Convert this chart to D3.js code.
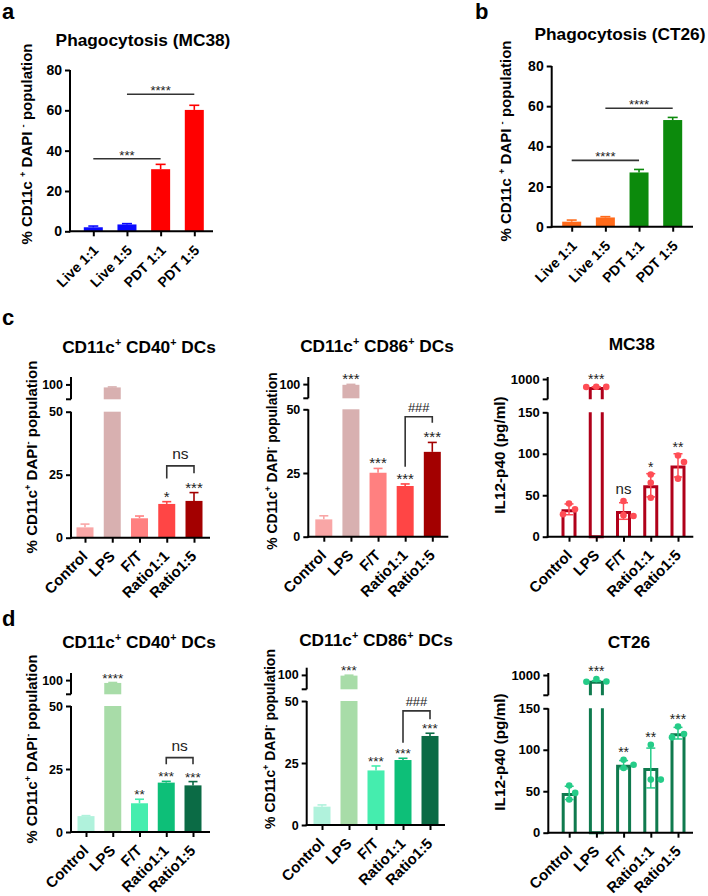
<!DOCTYPE html>
<html><head><meta charset="utf-8">
<script src="https://cdn.jsdelivr.net/npm/d3@7"></script>
<style>
body{margin:0;background:#fff}
svg{display:block}
text{font-family:"Liberation Sans",Arial,Helvetica,sans-serif}
</style>
</head><body>
<svg id="fig" width="708" height="896"></svg>
<script>
// ---------------- DATA ----------------
const phagoCats = ["Live 1:1", "Live 1:5", "PDT 1:1", "PDT 1:5"];
const phagoMC38 = [2.0, 3.4, 30.8, 60.2];
const phagoMC38Err = [0.6, 0.4, 2.4, 2.3];
const phagoCT26 = [2.5, 4.6, 27.0, 53.1];
const phagoCT26Err = [0.8, 0.4, 1.5, 1.3];
const phagoMC38Sig = [{from: 0, to: 2, y: 36, label: "***"}, {from: 1, to: 3, y: 68, label: "****"}];
const phagoCT26Sig = [{from: 0, to: 2, y: 33, label: "****"}, {from: 1, to: 3, y: 59, label: "****"}];

const dcCats = ["Control", "LPS", "F/T", "Ratio1:1", "Ratio1:5"];
// panel c (MC38)
const cCD40 = [4.1, 98.0, 7.7, 13.4, 14.6];
const cCD40Err = [1.3, 0.3, 0.9, 0.9, 3.3];
const cCD40Stars = ["", "", "", "*", "***"];
const cCD40Bracket = {from: 3, to: 4, y: 28.5, leftEnd: 23.5, rightEnd: 25.6, label: "ns"};
const cCD86 = [6.8, 99.5, 25.1, 19.9, 33.3];
const cCD86Err = [1.4, 0.3, 1.7, 0.8, 3.7];
const cCD86Stars = ["", "***", "***", "***", "***"];
const cCD86Bracket = {from: 3, to: 4, y: 47.1, leftEnd: 27.5, rightEnd: 44.7, label: "###"};
const cIL12Dots = [[27, 40, 33], [842, 848, 845], [25, 43, 26], [65, 75, 47], [90, 98, 70]];
const cIL12Mean = [33, 845, 31, 62, 86];
const cIL12SD = [6.5, 3, 10, 14, 14];
const cIL12Stars = ["", "***", "ns", "*", "**"];
// panel d (CT26)
const dCD40 = [6.3, 98.0, 11.4, 19.6, 18.5];
const dCD40Err = [0.2, 0.3, 1.6, 0.5, 1.5];
const dCD40Stars = ["", "****", "**", "***", "***"];
const dCD40Bracket = {from: 3, to: 4, y: 29.5, leftEnd: 26.9, rightEnd: 26.9, label: "ns"};
const dCD86 = [7.4, 99.5, 22.0, 26.2, 35.9];
const dCD86Err = [0.7, 0.3, 1.8, 0.7, 1.1];
const dCD86Stars = ["", "***", "***", "***", "***"];
const dCD86Bracket = {from: 3, to: 4, y: 46, leftEnd: 33.2, rightEnd: 42.6, label: "###"};
const dIL12Dots = [[57, 48, 40], [868, 920, 872], [78, 88, 82], [64, 106, 64], [115, 128, 119]];
const dIL12Mean = [48, 885, 82, 78, 120];
const dIL12SD = [8, 4, 5, 24, 7];
const dIL12Stars = ["", "***", "**", "**", "***"];

// colours
const blueRed = ["#0a0aff", "#0a0aff", "#ff0000", "#ff0000"];
const orangeGreen = ["#ff6a1a", "#ff6a1a", "#0c8a0c", "#0c8a0c"];
const redShades = ["#f9a6a6", "#d8b0b0", "#ff8080", "#ff4545", "#a30000"];
const greenShades = ["#b0f2dc", "#a8dca8", "#45edae", "#0dbf78", "#0b6b45"];

// ---------------- DRAW ----------------
const svg = d3.select("#fig");

function richText(sel, parts, size) {
  let pending = 0;
  parts.forEach(p => {
    const ts = sel.append("tspan").text(p.t);
    if (p.sup) {
      const shift = size * 0.4;
      ts.attr("font-size", size * 0.62).attr("dy", -shift + pending);
      pending = shift;
    } else {
      ts.attr("font-size", size);
      if (pending) ts.attr("dy", pending);
      pending = 0;
    }
  });
}

function panel(cfg) {
  const g = svg.append("g");
  const x = d3.scalePoint().domain(cfg.cats).range(cfg.xRange);
  const yL = d3.scaleLinear().domain(cfg.low).range([cfg.y0, cfg.yTop]);
  const yU = cfg.up ? d3.scaleLinear().domain(cfg.up).range(cfg.upRange) : null;
  const lowMax = cfg.low[1];
  const Y = v => (yU && v > lowMax) ? yU(v) : yL(Math.max(v, cfg.low[0]));
  const rows = cfg.cats.map((c, i) => ({c, i, v: cfg.values[i], e: cfg.errs[i], col: cfg.colors[i], dots: cfg.dots ? cfg.dots[i] : null}));
  const w = cfg.barW;

  if (!cfg.hollow) {
    g.selectAll("rect.low").data(rows).join("rect")
      .attr("x", d => x(d.c) - w / 2)
      .attr("y", d => yL(Math.min(d.v, lowMax)))
      .attr("width", w)
      .attr("height", d => cfg.y0 - yL(Math.min(d.v, lowMax)))
      .attr("fill", d => d.col);
    if (yU) {
      g.selectAll("rect.up").data(rows.filter(d => d.v > lowMax)).join("rect")
        .attr("x", d => x(d.c) - w / 2)
        .attr("y", d => yU(d.v))
        .attr("width", w)
        .attr("height", d => cfg.upRange[0] - yU(d.v))
        .attr("fill", d => d.col);
    }
    const eg = g.selectAll("g.err").data(rows).join("g").attr("stroke", d => d.col).attr("stroke-width", 1.6);
    eg.append("line").attr("x1", d => x(d.c)).attr("x2", d => x(d.c))
      .attr("y1", d => Y(d.v)).attr("y2", d => Y(d.v + d.e));
    eg.append("line").attr("x1", d => x(d.c) - cfg.capW / 2).attr("x2", d => x(d.c) + cfg.capW / 2)
      .attr("y1", d => Y(d.v + d.e)).attr("y2", d => Y(d.v + d.e));
  } else {
    const sw = 3;
    const hw = w / 2 - sw / 2;
    g.selectAll("path.hbar").data(rows).join("path")
      .attr("fill", "none").attr("stroke", cfg.stroke).attr("stroke-width", sw)
      .attr("d", d => {
        const cx = x(d.c);
        if (yU && d.v > lowMax) {
          const t = yL(lowMax), b = cfg.y0, ub = cfg.upRange[0], ut = yU(d.v) + sw / 2;
          return `M${cx - hw},${t}V${b}H${cx + hw}V${t}M${cx - hw},${ub}V${ut}H${cx + hw}V${ub}`;
        }
        return `M${cx - hw},${cfg.y0}V${yL(d.v) + sw / 2}H${cx + hw}V${cfg.y0}`;
      });
    const eg = g.selectAll("g.err").data(rows).join("g").attr("stroke", cfg.dotColor).attr("stroke-width", 1.5);
    eg.append("line").attr("x1", d => x(d.c)).attr("x2", d => x(d.c))
      .attr("y1", d => Y(d.v - d.e)).attr("y2", d => Y(d.v + d.e));
    eg.append("line").attr("x1", d => x(d.c) - cfg.capW / 2).attr("x2", d => x(d.c) + cfg.capW / 2)
      .attr("y1", d => Y(d.v + d.e)).attr("y2", d => Y(d.v + d.e));
    eg.append("line").attr("x1", d => x(d.c) - cfg.capW / 2).attr("x2", d => x(d.c) + cfg.capW / 2)
      .attr("y1", d => Y(d.v - d.e)).attr("y2", d => Y(d.v - d.e));
    const r = 3.3;
    const dotData = [];
    rows.forEach(d => {
      const placed = [];
      d.dots.slice().sort((a, b) => b - a).forEach(val => {
        const py = Y(val);
        let off = 0;
        for (const cand of [0, 6, -6, 10, -10]) {
          if (placed.every(p => Math.hypot(p.ox - cand, p.py - py) >= 2 * r + 1.5)) { off = cand; break; }
        }
        placed.push({ox: off, py});
        dotData.push({cx: x(d.c) + off, cy: py});
      });
    });
    g.selectAll("circle.dot").data(dotData).join("circle")
      .attr("cx", d => d.cx).attr("cy", d => d.cy).attr("r", r).attr("fill", cfg.dotColor);
  }

  // axes
  const ax = g.append("g").attr("stroke", "#000");
  const yAx = g.append("g").attr("transform", `translate(${cfg.axisX},0)`)
    .call(d3.axisLeft(yL).tickValues(cfg.ticks).tickSize(5).tickPadding(3).tickFormat(d3.format("d")));
  yAx.select(".domain").remove();
  if (yU) {
    const uAx = g.append("g").attr("transform", `translate(${cfg.axisX},0)`)
      .call(d3.axisLeft(yU).tickValues(cfg.upTicks).tickSize(5).tickPadding(3).tickFormat(d3.format("d")));
    uAx.select(".domain").remove();
    ax.append("line").attr("x1", cfg.axisX).attr("x2", cfg.axisX)
      .attr("y1", cfg.upRange[0]).attr("y2", cfg.upRange[1]).attr("stroke-width", 2);
    ax.append("line").attr("x1", cfg.axisX - 5).attr("x2", cfg.axisX)
      .attr("y1", cfg.upRange[0]).attr("y2", cfg.upRange[0]).attr("stroke-width", 2);
  }
  ax.append("line").attr("x1", cfg.axisX).attr("x2", cfg.axisX)
    .attr("y1", cfg.y0 + 1).attr("y2", cfg.yTop).attr("stroke-width", 2);
  const xAx = g.append("g").attr("transform", `translate(0,${cfg.y0})`)
    .call(d3.axisBottom(x).tickSize(5).tickFormat(""));
  xAx.select(".domain").remove();
  xAx.selectAll(".tick text").remove();
  ax.append("line").attr("x1", cfg.axisX - 1).attr("x2", cfg.axisEnd)
    .attr("y1", cfg.y0).attr("y2", cfg.y0).attr("stroke-width", 2);
  g.selectAll(".tick line").attr("stroke", "#000").attr("stroke-width", 2);
  g.selectAll(".tick text").attr("font-size", cfg.tickFont).attr("font-weight", "bold").attr("fill", "#000");

  // x labels (rotated)
  g.selectAll("text.xl").data(rows).join("text")
    .attr("transform", d => `translate(${x(d.c) + cfg.xlDx},${cfg.y0 + cfg.xlDy}) rotate(-45)`)
    .attr("text-anchor", "end").attr("font-weight", "bold").attr("font-size", cfg.xlFont)
    .text(d => d.c);

  // title
  const tt = g.append("text").attr("x", cfg.titleX).attr("y", cfg.titleY).attr("text-anchor", "middle")
    .attr("font-weight", "bold").attr("font-size", cfg.titleFont);
  richText(tt, cfg.title, cfg.titleFont);
  // y label
  const yl = g.append("text").attr("transform", `translate(${cfg.ylX},${cfg.ylY}) rotate(-90)`)
    .attr("text-anchor", "middle").attr("font-weight", "bold").attr("font-size", cfg.ylFont);
  richText(yl, cfg.ylabel, cfg.ylFont);

  // stars above bars
  if (cfg.stars) {
    rows.forEach(d => {
      const s = cfg.stars[d.i];
      if (!s) return;
      let top = Y(d.v + d.e);
      if (d.dots) top = Math.min(top, ...d.dots.map(v => Y(v) - 3));
      const isNs = s === "ns";
      g.append("text").attr("x", x(d.c)).attr("y", top - (isNs ? 4 : 0))
        .attr("text-anchor", "middle").attr("font-size", isNs ? 15 : cfg.starFont).attr("fill", "#222")
        .text(s);
    });
  }
  if (cfg.sigLines) {
    cfg.sigLines.forEach(s => {
      const x1 = x(cfg.cats[s.from]), x2 = x(cfg.cats[s.to]);
      g.append("line").attr("x1", x1).attr("x2", x2).attr("y1", yL(s.y)).attr("y2", yL(s.y))
        .attr("stroke", "#333").attr("stroke-width", 1.6);
      g.append("text").attr("x", (x1 + x2) / 2).attr("y", yL(s.y) + 1).attr("text-anchor", "middle")
        .attr("font-size", cfg.starFont).attr("fill", "#222").text(s.label);
    });
  }
  if (cfg.bracket) {
    const b = cfg.bracket;
    const x1 = x(cfg.cats[b.from]), x2 = x(cfg.cats[b.to]);
    g.append("path").attr("fill", "none").attr("stroke", "#333").attr("stroke-width", 1.6)
      .attr("d", `M${x1},${yL(b.leftEnd)}V${yL(b.y)}H${x2}V${yL(b.rightEnd)}`);
    const isNs = b.label === "ns";
    g.append("text").attr("x", (x1 + x2) / 2).attr("y", yL(b.y) - (isNs ? 7 : 5)).attr("text-anchor", "middle")
      .attr("font-size", isNs ? 15.5 : 13).attr("fill", "#222").text(b.label);
  }
}

const ylA = [{t: "% CD11c "}, {t: "+", sup: true}, {t: " DAPI "}, {t: "-", sup: true}, {t: " population"}];
const ylC = [{t: "% CD11c"}, {t: "+", sup: true}, {t: " DAPI"}, {t: "-", sup: true}, {t: " population"}];
const t40 = [{t: "CD11c"}, {t: "+", sup: true}, {t: " CD40"}, {t: "+", sup: true}, {t: " DCs"}];
const t86 = [{t: "CD11c"}, {t: "+", sup: true}, {t: " CD86"}, {t: "+", sup: true}, {t: " DCs"}];
const ylIL = [{t: "IL12-p40 (pg/ml)"}];

const pctCommon = {cats: dcCats, low: [0, 50], ticks: [0, 25, 50], up: [90, 105], upTicks: [100],
  barW: 17, capW: 9, tickFont: 12.5, xlFont: 15, xlDx: 3.5, xlDy: 19.5, titleFont: 17.3, ylFont: 15, starFont: 15};
const ilCommon = {cats: dcCats, low: [0, 150], ticks: [0, 50, 100, 150], up: [600, 1040], upTicks: [1000],
  barW: 15, capW: 9, tickFont: 13, xlFont: 15, xlDx: 4, xlDy: 19.5, titleFont: 17.3, ylFont: 15.3, hollow: true, starFont: 14};

// a
panel({cats: phagoCats, values: phagoMC38, errs: phagoMC38Err, colors: blueRed, sigLines: phagoMC38Sig,
  low: [0, 80], ticks: [0, 20, 40, 60, 80], xRange: [93.3, 194.3], axisX: 70, axisEnd: 213, y0: 231.3, yTop: 70,
  barW: 19, capW: 10, tickFont: 14, xlFont: 14, xlDx: 6, xlDy: 20, starFont: 13,
  title: [{t: "Phagocytosis (MC38)"}], titleX: 143, titleY: 46, titleFont: 17.3,
  ylabel: ylA, ylX: 32, ylY: 144, ylFont: 15});
// b
panel({cats: phagoCats, values: phagoCT26, errs: phagoCT26Err, colors: orangeGreen, sigLines: phagoCT26Sig,
  low: [0, 80], ticks: [0, 20, 40, 60, 80], xRange: [571.7, 672.7], axisX: 551.7, axisEnd: 693, y0: 226.7, yTop: 66,
  barW: 19, capW: 10, tickFont: 14, xlFont: 14, xlDx: 6, xlDy: 20, starFont: 13,
  title: [{t: "Phagocytosis (CT26)"}], titleX: 620, titleY: 40, titleFont: 17.3,
  ylabel: ylA, ylX: 511, ylY: 141, ylFont: 15});
// c
panel(Object.assign({}, pctCommon, {values: cCD40, errs: cCD40Err, colors: redShades, stars: cCD40Stars, bracket: cCD40Bracket,
  xRange: [85, 194], axisX: 71, axisEnd: 210, y0: 537.7, yTop: 411.7, upRange: [399.3, 377],
  title: t40, titleX: 139, titleY: 353, ylabel: ylC, ylX: 37, ylY: 457}));
panel(Object.assign({}, pctCommon, {values: cCD86, errs: cCD86Err, colors: redShades, stars: cCD86Stars, bracket: cCD86Bracket,
  xRange: [323.8, 432.3], axisX: 308.3, axisEnd: 448.3, y0: 536.7, yTop: 409.3, upRange: [398.3, 377],
  title: t86, titleX: 377, titleY: 351.7, ylabel: ylC, ylX: 277, ylY: 461, ylFont: 13.8}));
panel(Object.assign({}, ilCommon, {values: cIL12Mean, errs: cIL12SD, dots: cIL12Dots, colors: redShades, stars: cIL12Stars,
  stroke: "#b0001a", dotColor: "#ff4d55",
  xRange: [569, 678], axisX: 547.7, axisEnd: 693.3, y0: 536.7, yTop: 412.3, upRange: [399.3, 377],
  title: [{t: "MC38"}], titleX: 631.7, titleY: 350, ylabel: ylIL, ylX: 505, ylY: 455}));
// d
panel(Object.assign({}, pctCommon, {values: dCD40, errs: dCD40Err, colors: greenShades, stars: dCD40Stars, bracket: dCD40Bracket,
  xRange: [86, 193], axisX: 71, axisEnd: 210, y0: 832, yTop: 706, upRange: [694.3, 673], starFont: 13.5,
  title: t40, titleX: 139, titleY: 647.7, ylabel: ylC, ylX: 36.5, ylY: 749, ylFont: 14.7}));
panel(Object.assign({}, pctCommon, {values: dCD86, errs: dCD86Err, colors: greenShades, stars: dCD86Stars, bracket: dCD86Bracket,
  xRange: [322, 430], axisX: 306.7, axisEnd: 445, y0: 825, yTop: 701, upRange: [689.3, 667.7], starFont: 13.5,
  title: t86, titleX: 376, titleY: 646, ylabel: ylC, ylX: 275, ylY: 739, ylFont: 14}));
panel(Object.assign({}, ilCommon, {values: dIL12Mean, errs: dIL12SD, dots: dIL12Dots, colors: greenShades, stars: dIL12Stars,
  stroke: "#0f7a4e", dotColor: "#25cc88",
  xRange: [569.2, 678], axisX: 548.3, axisEnd: 693, y0: 832.7, yTop: 708.3, upRange: [695.3, 673],
  title: [{t: "CT26"}], titleX: 629, titleY: 647.7, ylabel: ylIL, ylX: 505, ylY: 752}));

// panel letters
const letters = [{t: "a", x: 2, y: 19}, {t: "b", x: 475, y: 19}, {t: "c", x: 2, y: 325}, {t: "d", x: 2, y: 626}];
svg.selectAll("text.letter").data(letters).join("text")
  .attr("x", d => d.x).attr("y", d => d.y).attr("font-size", 22).attr("font-weight", "bold").text(d => d.t);
</script>
</body></html>
